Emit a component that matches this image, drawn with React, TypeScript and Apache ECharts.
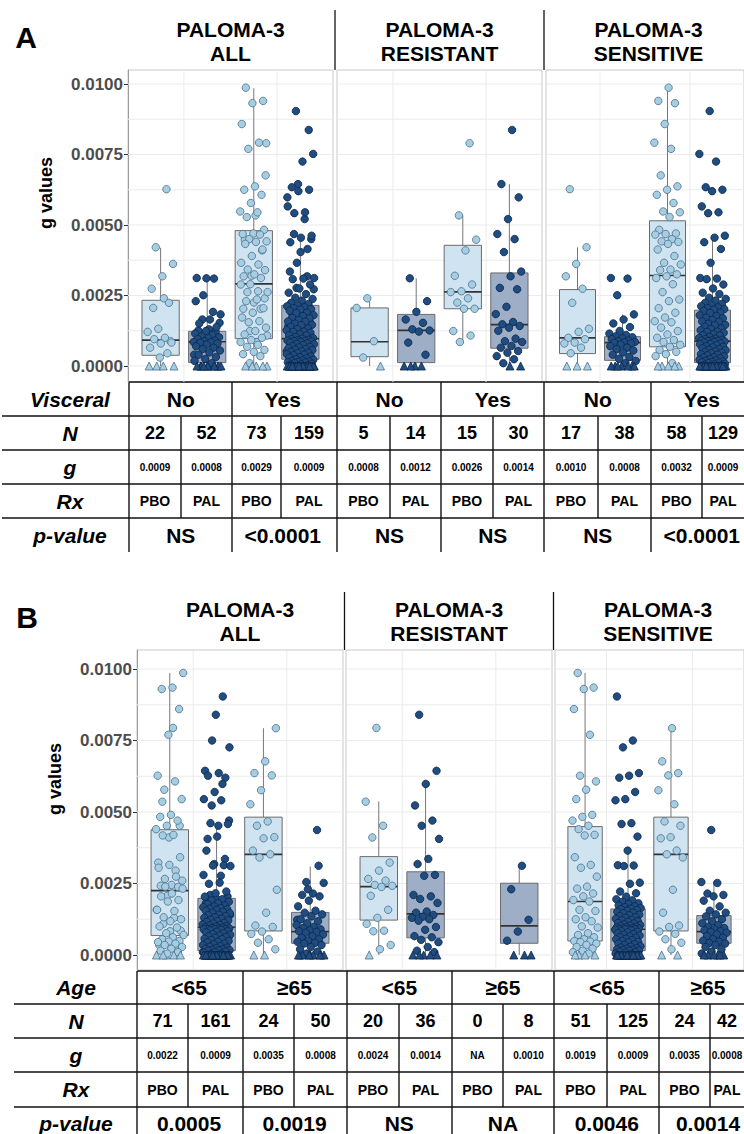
import React, { useEffect, useRef } from 'react';
import * as echarts from 'echarts';

// ---------------- DATA ----------------
const Y_TICKS_STEP = 0.0025;
const GRID_Y = [0, 0.00125, 0.0025, 0.00375, 0.005, 0.00625, 0.0075, 0.00875, 0.01];
const CAT_X = [1, 2];
const FACET_TITLES = ['ALL', 'RESISTANT', 'SENSITIVE'];
const ARMS = ['PBO', 'PAL'];
const VISCERAL = ['No', 'Yes'];
const AGE = ['<65', '\u226565'];

// Panel A (visceral) – g values
const A_RES_NO_PBO = [0.0024, 0.00206, 0.00088, 0.0003, 0];
const A_RES_NO_PAL = [0.00311, 0.0023, 0.00192, 0.00165, 0.00153, 0.0013, 0.00126, 0.00122, 0.00083, 0.0004, 0, 0, 0, 0];
const A_RES_YES_PBO = [0.0079, 0.00534, 0.00448, 0.0041, 0.0032, 0.00289, 0.00265, 0.00262, 0.0024, 0.00225, 0.00203, 0.00203, 0.00124, 0.00108, 0.00085];
const A_RES_YES_PAL = [0.00837, 0.00645, 0.00598, 0.00521, 0.00468, 0.0045, 0.00404, 0.00335, 0.00318, 0.00277, 0.00272, 0.0021, 0.00184, 0.00156, 0.00148, 0.00142, 0.00136, 0.00125, 0.00097, 0.00088, 0.00085, 0.00071, 0.00065, 0.00053, 0.00047, 0.00035, 0.00024, 0.0001, 0, 0];
const A_SENS_NO_PBO = [0.00627, 0.00421, 0.00362, 0.00318, 0.00274, 0.00224, 0.00132, 0.00121, 0.001, 0.00095, 0.00083, 0.0008, 0.00065, 0.00045, 0, 0, 0];
const A_SENS_NO_PAL = [0.00312, 0.0031, 0.00251, 0.00183, 0.00165, 0.00151, 0.00138, 0.00124, 0.00115, 0.0011, 0.00105, 0.00102, 0.00098, 0.00095, 0.0009, 0.00088, 0.00085, 0.00084, 0.00082, 0.0008, 0.00076, 0.0007, 0.00065, 0.0006, 0.00055, 0.00048, 0.0004, 0.00032, 0.00025, 0.00018, 0.0001, 0, 0, 0, 0, 0, 0, 0];
const A_SENS_YES_PBO = [0.00987, 0.0094, 0.00932, 0.00858, 0.00792, 0.0077, 0.00676, 0.00637, 0.00625, 0.00607, 0.00578, 0.00548, 0.00545, 0.00528, 0.00483, 0.0047, 0.00468, 0.00466, 0.0045, 0.00442, 0.0044, 0.00433, 0.00413, 0.0039, 0.00366, 0.0036, 0.00342, 0.0034, 0.00325, 0.00318, 0.00312, 0.0029, 0.00262, 0.00236, 0.0023, 0.00205, 0.00189, 0.00172, 0.00159, 0.00155, 0.00136, 0.00124, 0.00112, 0.001, 0.00092, 0.00085, 0.00075, 0.00068, 0.00057, 0.0005, 0.00042, 0.00035, 0.0001, 0, 0, 0, 0, 0];
const A_SENS_YES_PAL = [0.00904, 0.00752, 0.00725, 0.00634, 0.00625, 0.0062, 0.00566, 0.00545, 0.00542, 0.00462, 0.00455, 0.00439, 0.00415, 0.00366, 0.00312, 0.0031, 0.00308, 0.00289, 0.00275, 0.0026, 0.00255, 0.00242, 0.00238, 0.00232, 0.00224, 0.0022, 0.00215, 0.00212, 0.00208, 0.00205, 0.00202, 0.002,
  0.00196, 0.00189, 0.00188, 0.0018, 0.00177, 0.00171, 0.00169, 0.00163, 0.00158, 0.00157, 0.0015, 0.00146, 0.00145, 0.00139, 0.00133, 0.00131, 0.00127, 0.00122, 0.00121, 0.00118, 0.00113, 0.00109, 0.00108, 0.00103, 0.00099, 0.00097, 0.00095, 0.00093, 0.00091, 0.0009, 0.00089, 0.00088,
  0.00087, 0.00085, 0.00083, 0.0008, 0.00078, 0.00077, 0.00074, 0.0007, 0.00068, 0.00066, 0.00063, 0.0006, 0.00058, 0.00056, 0.00052, 0.0005, 0.00047, 0.00045, 0.00042, 0.0004, 0.00038, 0.00034, 0.00031, 0.0003, 0.00027, 0.00024, 0.00022, 0.0002, 0.00018, 0.00016, 0.00014, 0.00013, 0.00012,
  0.0001, 0.00008, 0.00006, 0.00004, 0.00002, 0, 0, 0, 0, 0, 0, 0, 0, 0, 0, 0, 0, 0, 0, 0, 0, 0, 0, 0, 0, 0, 0, 0, 0, 0, 0, 0];

// Panel B (age)
const B_RES_LT_PBO = [0.00794, 0.00536, 0.00452, 0.00411, 0.00323, 0.00295, 0.00266, 0.0026, 0.00245, 0.00242, 0.00238, 0.00207, 0.00158, 0.0013, 0.00109, 0.00085, 0.00083, 0.00035, 0.0002, 0];
const B_RES_LT_PAL = [0.0084, 0.00644, 0.00598, 0.00523, 0.0047, 0.00452, 0.00406, 0.00336, 0.00318, 0.0028, 0.00277, 0.0021, 0.00205, 0.00196, 0.00182, 0.00152, 0.00148, 0.0014, 0.00134, 0.0013, 0.00125, 0.0012, 0.00098, 0.00088, 0.00066, 0.00062, 0.00053, 0.00045, 0.00028, 0.00015, 0.0001, 0, 0, 0, 0, 0];
const B_RES_GE_PBO: number[] = [];
const B_RES_GE_PAL = [0.00312, 0.0023, 0.00123, 0.00082, 0.0005, 0, 0, 0];
const B_SENS_LT_PBO = [0.00986, 0.00935, 0.0093, 0.0086, 0.0077, 0.00627, 0.00607, 0.00578, 0.00545, 0.0049, 0.00483, 0.0047, 0.00452, 0.0044, 0.0042, 0.00418, 0.00342, 0.00315, 0.00305, 0.00274, 0.00239, 0.00232, 0.00215, 0.00205, 0.00192, 0.00187, 0.00158, 0.00154, 0.00132, 0.00125, 0.00118, 0.001, 0.00096, 0.00076, 0.0007, 0.00062, 0.00055, 0.00049, 0.00047, 0.00045, 0.0004, 0.00035, 0.00028, 0.00022, 0.00015, 0.0001, 0.00005, 0, 0, 0, 0];
const B_SENS_LT_PAL = [0.00904, 0.0075, 0.00726, 0.00636, 0.00627, 0.0062, 0.0057, 0.00545, 0.00541, 0.00461, 0.00458, 0.00414, 0.00365, 0.00314, 0.00313, 0.00311, 0.00253, 0.00249, 0.00222, 0.00216, 0.00204, 0.00195, 0.00191, 0.00186, 0.00181, 0.00178, 0.00173, 0.0017, 0.00167, 0.00164, 0.00162,
  0.0016, 0.00157, 0.00155, 0.00151, 0.00148, 0.00146, 0.00141, 0.00139, 0.00136, 0.00132, 0.0013, 0.00127, 0.00123, 0.00121, 0.00118, 0.00116, 0.00112, 0.0011, 0.00107, 0.00105, 0.00103, 0.00101, 0.00099, 0.00097, 0.00096, 0.00094, 0.00093, 0.00092, 0.00091, 0.0009, 0.0009, 0.0009,
  0.00088, 0.00086, 0.00083, 0.00081, 0.00079, 0.00076, 0.00073, 0.00071, 0.00068, 0.00065, 0.00063, 0.0006, 0.00057, 0.00055, 0.00052, 0.00049, 0.00046, 0.00044, 0.0004, 0.00037, 0.00035, 0.00031, 0.00029, 0.00026, 0.00024, 0.00022, 0.0002, 0.00018, 0.00017, 0.00016, 0.00015,
  0.00012, 0.0001, 0.00008, 0.00005, 0.00003, 0, 0, 0, 0, 0, 0, 0, 0, 0, 0, 0, 0, 0, 0, 0, 0, 0, 0, 0, 0, 0, 0, 0, 0, 0, 0];
const B_SENS_GE_PBO = [0.00793, 0.00677, 0.00636, 0.00628, 0.00576, 0.00527, 0.00467, 0.00452, 0.00412, 0.00408, 0.00365, 0.00352, 0.00341, 0.00228, 0.00148, 0.00103, 0.00098, 0.00082, 0.00074, 0.00055, 0.00043, 0.0002, 0, 0];
const B_SENS_GE_PAL = [0.00437, 0.00255, 0.00252, 0.00215, 0.0021, 0.00205, 0.0019, 0.0017, 0.00155, 0.00148, 0.00142, 0.00135, 0.00125, 0.00118, 0.00111, 0.00105, 0.00098, 0.00094, 0.0009, 0.00086, 0.00083, 0.00081, 0.00078, 0.00072, 0.00066, 0.0006, 0.00055, 0.0005, 0.00046, 0.00042, 0.0004, 0.00035, 0.00028, 0.0002, 0.00012, 0.00005, 0, 0, 0, 0, 0, 0];

// Box statistics [lower whisker, Q1, median, Q3, upper whisker]; [group][arm]
const A_BOX_ALL = [[[0, 0.00038, 0.00092, 0.00233, 0.00419], [0, 0.00012, 0.00086, 0.00123, 0.00312]], [[0, 0.00097, 0.00291, 0.0048, 0.00985], [0, 0.00024, 0.00097, 0.00215, 0.00466]]];
const A_BOX_RES = [[[0, 0.00033, 0.00086, 0.00206, 0.0024], [0, 0.00012, 0.00126, 0.00183, 0.00311]], [[0.00085, 0.00203, 0.00263, 0.00428, 0.00534], [0, 0.00063, 0.00147, 0.0033, 0.00645]]];
const A_BOX_SENS = [[[0, 0.00044, 0.001, 0.00271, 0.00421], [0, 0.0002, 0.00083, 0.00104, 0.00183]], [[0, 0.00068, 0.00321, 0.00515, 0.00987], [0, 0.00012, 0.00088, 0.00198, 0.00466]]];
const B_BOX_ALL = [[[0, 0.00068, 0.00225, 0.00438, 0.00986], [0, 0.00015, 0.00097, 0.00198, 0.00465]], [[0, 0.00084, 0.00352, 0.00482, 0.00793], [0, 0.00041, 0.00082, 0.00149, 0.00309]]];
const B_BOX_RES = [[[0, 0.00122, 0.00239, 0.00344, 0.00537], [0, 0.0006, 0.00144, 0.00291, 0.00598]], [null, [0, 0.00041, 0.00102, 0.00251, 0.00312]]];
const B_BOX_SENS = [[[0, 0.00049, 0.00187, 0.00449, 0.00986], [0, 0.00015, 0.0009, 0.00161, 0.00365]], [[0, 0.00084, 0.00352, 0.00482, 0.00793], [0, 0.00041, 0.00082, 0.00138, 0.00257]]];

// Tables
const A_N = ['22', '52', '73', '159', '5', '14', '15', '30', '17', '38', '58', '129'];
const A_G = ['0.0009', '0.0008', '0.0029', '0.0009', '0.0008', '0.0012', '0.0026', '0.0014', '0.0010', '0.0008', '0.0032', '0.0009'];
const A_P = ['NS', '<0.0001', 'NS', 'NS', 'NS', '<0.0001'];
const B_N = ['71', '161', '24', '50', '20', '36', '0', '8', '51', '125', '24', '42'];
const B_G = ['0.0022', '0.0009', '0.0035', '0.0008', '0.0024', '0.0014', 'NA', '0.0010', '0.0019', '0.0009', '0.0035', '0.0008'];
const B_P = ['0.0005', '0.0019', 'NS', 'NA', '0.0046', '0.0014'];

// ---------------- STYLE / LAYOUT ----------------
const FONT = '"Liberation Sans", Arial, Helvetica, sans-serif';
const XMIN = 0.4, XMAX = 2.6, DODGE = 0.25, BOX_W = 0.4, JW = 0.3;
const PT_FILL = ['#a6cee3', '#1f4d82'];
const PT_EDGE = ['#4d6f8c', '#0e2645'];
const BOX_FILL = ['#cfe3f1', '#9eaec7'];
const PAGE_W = 744;

const cat = (a: number[], b: number[]) => a.concat(b);

const PANEL_A = {
  lefts: [128, 337, 546], width: 205, top: 70, bottom: 382, y01: 84, y0: 366,
  letter: 'A', letterPos: [26, 37], titleY: [29, 53], divTop: 10, yTitle: [46, 193],
  facets: [
    { boxes: A_BOX_ALL, points: [[cat(A_RES_NO_PBO, A_SENS_NO_PBO), cat(A_RES_NO_PAL, A_SENS_NO_PAL)], [cat(A_RES_YES_PBO, A_SENS_YES_PBO), cat(A_RES_YES_PAL, A_SENS_YES_PAL)]] },
    { boxes: A_BOX_RES, points: [[A_RES_NO_PBO, A_RES_NO_PAL], [A_RES_YES_PBO, A_RES_YES_PAL]] },
    { boxes: A_BOX_SENS, points: [[A_SENS_NO_PBO, A_SENS_NO_PAL], [A_SENS_YES_PBO, A_SENS_YES_PAL]] },
  ],
  table: {
    rows: [382, 416, 450, 484, 518, 552], lineLeft: 2, labelX: 70,
    edges: [129, 181, 232, 281, 337, 390, 441, 493, 544, 598, 651, 702, 752],
    labels: ['Visceral', 'N', 'g', 'Rx', 'p-value'],
    groups: VISCERAL, n: A_N, g: A_G, p: A_P,
  },
};

const PANEL_B = {
  lefts: [137, 346, 555], width: 206, top: 650, bottom: 970, y01: 669, y0: 955,
  letter: 'B', letterPos: [27, 617], titleY: [609, 633], divTop: 592, yTitle: [55, 779],
  facets: [
    { boxes: B_BOX_ALL, points: [[cat(B_RES_LT_PBO, B_SENS_LT_PBO), cat(B_RES_LT_PAL, B_SENS_LT_PAL)], [cat(B_RES_GE_PBO, B_SENS_GE_PBO), cat(B_RES_GE_PAL, B_SENS_GE_PAL)]] },
    { boxes: B_BOX_RES, points: [[B_RES_LT_PBO, B_RES_LT_PAL], [B_RES_GE_PBO, B_RES_GE_PAL]] },
    { boxes: B_BOX_SENS, points: [[B_SENS_LT_PBO, B_SENS_LT_PAL], [B_SENS_GE_PBO, B_SENS_GE_PAL]] },
  ],
  table: {
    rows: [971, 1004, 1038, 1072, 1107, 1140], lineLeft: 14, labelX: 76,
    edges: [137, 188, 243, 294, 347, 399, 452, 503, 554, 607, 659, 710, 764],
    labels: ['Age', 'N', 'g', 'Rx', 'p-value'],
    groups: AGE, n: B_N, g: B_G, p: B_P,
  },
};

function jit(i: number) {
  return ((((i + 1) * 0.6180339887) % 1) - 0.5) * JW;
}

function buildPanel(P: any, out: any) {
  const span = P.y0 - P.y01;
  const yMax = 0.01 + ((P.y01 - P.top) / span) * 0.01;
  const yMin = -((P.bottom - P.y0) / span) * 0.01;

  P.facets.forEach((fac: any, f: number) => {
    const gi = out.grid.length;
    out.grid.push({ left: P.lefts[f], top: P.top, width: P.width, height: P.bottom - P.top, show: true, borderColor: '#c9c9c9', borderWidth: 1, backgroundColor: 'transparent' });
    out.xAxis.push({ type: 'value', gridIndex: gi, min: XMIN, max: XMAX, show: false });
    out.yAxis.push({
      type: 'value', gridIndex: gi, min: yMin, max: yMax,
      axisLine: { show: f === 0, lineStyle: { color: '#9a9a9a', width: 1 } },
      axisTick: { show: false }, axisLabel: { show: false }, splitLine: { show: false },
    });
    out.series.push({
      type: 'custom', xAxisIndex: gi, yAxisIndex: gi, z: 1, silent: true,
      data: GRID_Y.map((v) => [XMIN, v]),
      renderItem: (_p: any, api: any) => {
        const v = api.value(1);
        const a = api.coord([XMIN, v]);
        const b = api.coord([XMAX, v]);
        return { type: 'line', shape: { x1: a[0], y1: a[1], x2: b[0], y2: b[1] }, style: { stroke: '#ebebeb', lineWidth: 1 } };
      },
    });
    out.series.push({
      type: 'custom', xAxisIndex: gi, yAxisIndex: gi, z: 1, silent: true,
      data: CAT_X.map((x) => [x, yMin]),
      renderItem: (_p: any, api: any) => {
        const x = api.value(0);
        const a = api.coord([x, yMin]);
        const b = api.coord([x, yMax]);
        return { type: 'line', shape: { x1: a[0], y1: a[1], x2: b[0], y2: b[1] }, style: { stroke: '#ebebeb', lineWidth: 1 } };
      },
    });
    const boxData: any[] = [];
    fac.boxes.forEach((grp: any, g: number) => grp.forEach((st: any, a: number) => {
      if (st) boxData.push([CAT_X[g] + (a ? DODGE : -DODGE), st[0], st[1], st[2], st[3], st[4], a]);
    }));
    out.series.push({
      type: 'custom', xAxisIndex: gi, yAxisIndex: gi, z: 2, silent: true, data: boxData,
      renderItem: (_p: any, api: any) => {
        const x = api.value(0);
        const a = api.value(6);
        const hw = api.size([BOX_W, 0])[0] / 2;
        const pL = api.coord([x, api.value(1)]);
        const p1 = api.coord([x, api.value(2)]);
        const pM = api.coord([x, api.value(3)]);
        const p3 = api.coord([x, api.value(4)]);
        const pH = api.coord([x, api.value(5)]);
        const cx = pM[0];
        return {
          type: 'group', children: [
            { type: 'line', shape: { x1: cx, y1: pH[1], x2: cx, y2: p3[1] }, style: { stroke: '#777', lineWidth: 1 } },
            { type: 'line', shape: { x1: cx, y1: p1[1], x2: cx, y2: pL[1] }, style: { stroke: '#777', lineWidth: 1 } },
            { type: 'rect', shape: { x: cx - hw, y: p3[1], width: hw * 2, height: p1[1] - p3[1] }, style: { fill: BOX_FILL[a], stroke: '#6b6b6b', lineWidth: 1 } },
            { type: 'line', shape: { x1: cx - hw, y1: pM[1], x2: cx + hw, y2: pM[1] }, style: { stroke: '#333', lineWidth: 1.7 } },
          ],
        };
      },
    });
    [0, 1].forEach((a) => {
      const data: any[] = [];
      fac.points.forEach((grp: any, g: number) => {
        const xc = CAT_X[g] + (a ? DODGE : -DODGE);
        grp[a].forEach((v: number, i: number) => data.push([xc + jit(i + g * 7 + a * 3 + f * 11), v]));
      });
      out.series.push({
        type: 'scatter', xAxisIndex: gi, yAxisIndex: gi, z: 3, silent: true, data,
        symbol: (v: number[]) => (v[1] === 0 ? 'triangle' : 'circle'),
        symbolSize: (v: number[]) => (v[1] === 0 ? 8 : 7.5),
        itemStyle: { color: PT_FILL[a], borderColor: PT_EDGE[a], borderWidth: 0.8, opacity: 1 },
      });
    });
  });

  // y-axis labels
  const li = out.grid.length;
  out.grid.push({ left: P.lefts[0], top: P.y01, width: 1, height: P.y0 - P.y01, show: false });
  out.xAxis.push({ type: 'value', gridIndex: li, show: false, min: 0, max: 1 });
  out.yAxis.push({
    type: 'value', gridIndex: li, min: 0, max: 0.01, interval: Y_TICKS_STEP,
    axisLine: { show: false },
    axisTick: { show: true, length: 4, lineStyle: { color: '#333', width: 1 } },
    axisLabel: { show: true, margin: 5, formatter: (v: number) => v.toFixed(4), fontFamily: FONT, fontWeight: 'bold', fontSize: 17, color: '#4d4d4d' },
    splitLine: { show: false },
  });
  out.series.push({ type: 'scatter', xAxisIndex: li, yAxisIndex: li, data: [], silent: true });

  // graphics
  const g = out.graphic;
  const text = (t: string, x: number, y: number, font: string, extra: any = {}) =>
    g.push({ type: 'text', x, y, silent: true, ...extra, style: { text: t, font, fill: '#000', align: 'center', verticalAlign: 'middle', textAlign: 'center', textVerticalAlign: 'middle' } });
  const line = (x1: number, y1: number, x2: number, y2: number, w = 1.4) =>
    g.push({ type: 'line', silent: true, shape: { x1, y1, x2, y2 }, style: { stroke: '#111', lineWidth: w } });

  text(P.letter, P.letterPos[0], P.letterPos[1], `bold 30px ${FONT}`);
  FACET_TITLES.forEach((t, f) => {
    const cx = P.lefts[f] + P.width / 2;
    text('PALOMA-3', cx, P.titleY[0], `bold 21px ${FONT}`);
    text(t, cx, P.titleY[1], `bold 21px ${FONT}`);
  });
  for (let f = 0; f < 2; f++) {
    const x = (P.lefts[f] + P.width + P.lefts[f + 1]) / 2;
    line(x, P.divTop, x, P.top, 1.3);
  }
  text('g values', P.yTitle[0], P.yTitle[1], `bold 18px ${FONT}`, { rotation: Math.PI / 2 });

  // table
  const T = P.table;
  const R = T.rows;
  const E = T.edges;
  line(E[0], R[0], PAGE_W, R[0]);
  for (let r = 1; r <= 4; r++) line(T.lineLeft, R[r], PAGE_W, R[r]);
  for (let k = 0; k < E.length - 1; k += 2) line(E[k], R[0], E[k], R[5]);
  for (let k = 1; k < E.length - 1; k += 2) line(E[k], R[1], E[k], R[4]);
  const rc = (r: number) => (R[r] + R[r + 1]) / 2;
  T.labels.forEach((l: string, r: number) => text(l, T.labelX, rc(r), `italic bold 21px ${FONT}`));
  // full cell centres (for group spans) and visible cell centres (for small texts, kept inside the page)
  const cells = E.slice(0, -1).map((e: number, i: number) => (e + E[i + 1]) / 2);
  const visCells = E.slice(0, -1).map((e: number, i: number) => (e + Math.min(E[i + 1], PAGE_W)) / 2);
  for (let k = 0; k < 6; k++) {
    const gx = Math.min((cells[2 * k] + cells[2 * k + 1]) / 2, PAGE_W - 36);
    text(T.groups[k % 2], gx, rc(0), `bold 21px ${FONT}`);
    text(T.p[k], gx, rc(4), `bold 21px ${FONT}`);
  }
  visCells.forEach((cx: number, i: number) => {
    text(T.n[i], cx, rc(1), `bold 18px ${FONT}`);
    text(T.g[i], cx, rc(2), `bold 10px ${FONT}`);
    text(ARMS[i % 2], cx, rc(3), `bold 14px ${FONT}`);
  });
}

export default function App() {
  const ref = useRef<HTMLDivElement>(null);
  useEffect(() => {
    if (!ref.current) return;
    const chart = echarts.init(ref.current, undefined, { renderer: 'svg' });
    const out: any = { grid: [], xAxis: [], yAxis: [], series: [], graphic: [] };
    buildPanel(PANEL_A, out);
    buildPanel(PANEL_B, out);
    chart.setOption({
      animation: false,
      backgroundColor: '#ffffff',
      textStyle: { fontFamily: FONT },
      grid: out.grid,
      xAxis: out.xAxis,
      yAxis: out.yAxis,
      series: out.series,
      graphic: out.graphic,
    });
    return () => chart.dispose();
  }, []);
  return <div ref={ref} style={{ position: 'absolute', left: 0, top: 0, width: 744, height: 1134 }} />;
}
